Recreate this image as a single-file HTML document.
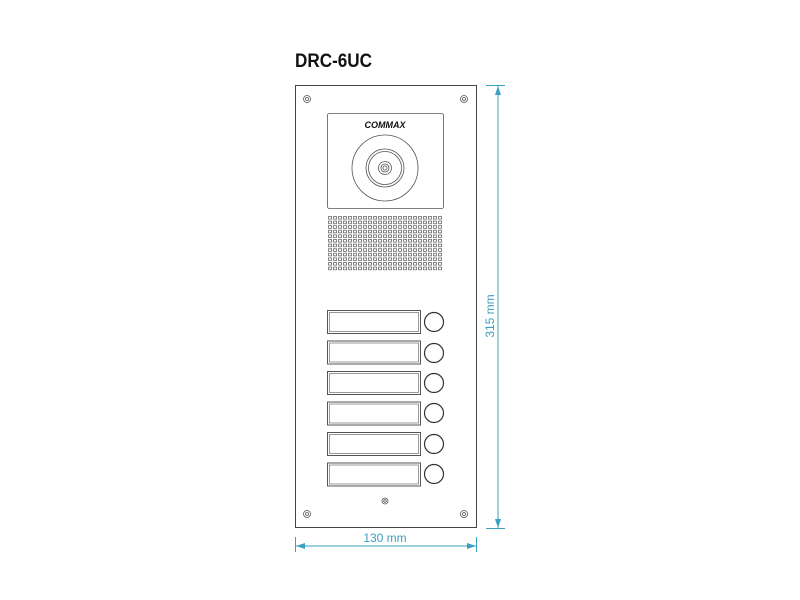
<!DOCTYPE html>
<html><head><meta charset="utf-8"><style>
html,body{margin:0;padding:0;background:#fff;width:800px;height:600px;overflow:hidden}
</style></head><body>
<svg width="800" height="600" viewBox="0 0 800 600" xmlns="http://www.w3.org/2000/svg">
<defs>
<pattern id="g" x="328" y="216" width="5" height="4.6" patternUnits="userSpaceOnUse">
<rect x="0.5" y="0.5" width="3" height="2.6" fill="none" stroke="#555" stroke-width="0.7"/>
</pattern>
</defs>
<text x="295" y="67" font-family="Liberation Sans, sans-serif" font-weight="bold" font-size="19" fill="#111" textLength="77" lengthAdjust="spacingAndGlyphs">DRC-6UC</text>
<rect x="295.5" y="85.5" width="181" height="442" fill="#fff" stroke="#444" stroke-width="1"/>
<g fill="none" stroke="#555" stroke-width="0.8">
<circle cx="307" cy="99" r="3.5"/><circle cx="307" cy="99" r="1.5"/>
<circle cx="464" cy="99" r="3.5"/><circle cx="464" cy="99" r="1.5"/>
<circle cx="307" cy="514" r="3.5"/><circle cx="307" cy="514" r="1.5"/>
<circle cx="464" cy="514" r="3.5"/><circle cx="464" cy="514" r="1.5"/>
<circle cx="385" cy="501" r="3"/><circle cx="385" cy="501" r="1.3"/>
<rect x="327.5" y="113.5" width="116" height="95" rx="2"/>
<circle cx="385" cy="168" r="33"/>
<circle cx="385" cy="168" r="19"/>
<circle cx="385" cy="168" r="16.5"/>
<circle cx="385" cy="168" r="6.5"/>
<circle cx="385" cy="168" r="4"/>
<circle cx="385" cy="168" r="2"/>
</g>
<text x="385" y="128" text-anchor="middle" font-family="Liberation Sans, sans-serif" font-weight="bold" font-style="italic" font-size="9" fill="#111">COMMAX</text>
<rect x="328" y="216" width="115" height="55" fill="url(#g)"/>
<g fill="#fff" stroke="#555" stroke-width="1">
<rect x="327.5" y="310.5" width="93" height="23"/><rect x="329.5" y="312.5" width="89" height="19" stroke-width="0.6"/>
<rect x="327.5" y="341" width="93" height="23"/><rect x="329.5" y="343" width="89" height="19" stroke-width="0.6"/>
<rect x="327.5" y="371.5" width="93" height="23"/><rect x="329.5" y="373.5" width="89" height="19" stroke-width="0.6"/>
<rect x="327.5" y="402" width="93" height="23"/><rect x="329.5" y="404" width="89" height="19" stroke-width="0.6"/>
<rect x="327.5" y="432.5" width="93" height="23"/><rect x="329.5" y="434.5" width="89" height="19" stroke-width="0.6"/>
<rect x="327.5" y="463" width="93" height="23"/><rect x="329.5" y="465" width="89" height="19" stroke-width="0.6"/>
</g>
<g fill="#fff" stroke="#333" stroke-width="1.2">
<circle cx="434" cy="322" r="9.5"/><circle cx="434" cy="353" r="9.5"/><circle cx="434" cy="383" r="9.5"/>
<circle cx="434" cy="413" r="9.5"/><circle cx="434" cy="444" r="9.5"/><circle cx="434" cy="474" r="9.5"/>
</g>
<g stroke="#3aa0c0" stroke-width="1" fill="#3aa0c0">
<line x1="486" y1="85.5" x2="505" y2="85.5"/>
<line x1="486" y1="528.5" x2="505" y2="528.5"/>
<line x1="498" y1="86" x2="498" y2="528"/>
<polygon points="498,86 495,95 501,95" stroke="none"/>
<polygon points="498,528 495,519 501,519" stroke="none"/>
<line x1="295.5" y1="537" x2="295.5" y2="552"/>
<line x1="476.5" y1="537" x2="476.5" y2="552"/>
<line x1="296" y1="546" x2="476" y2="546"/>
<polygon points="296,546 305,543 305,549" stroke="none"/>
<polygon points="476,546 467,543 467,549" stroke="none"/>
</g>
<text x="385" y="542" text-anchor="middle" font-family="Liberation Sans, sans-serif" font-size="12" fill="#3aa0c0">130 mm</text>
<text transform="translate(494,316) rotate(-90)" text-anchor="middle" font-family="Liberation Sans, sans-serif" font-size="12" fill="#3aa0c0">315 mm</text>
</svg>
</body></html>
